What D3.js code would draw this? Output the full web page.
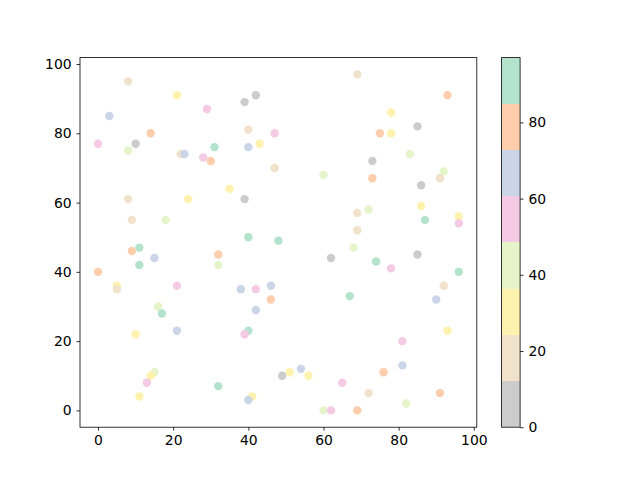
<!DOCTYPE html>
<html><head><meta charset="utf-8">
<script src="https://cdn.jsdelivr.net/npm/d3@7"></script>
<style>body{margin:0;background:#fff}svg{display:block}text{font-family:"DejaVu Sans",sans-serif}</style>
</head><body><svg id="c" width="640" height="480"></svg>
<script>
const xs = [8,3,0,21,29,14,10,8,22,23,28,30,31,39,42,40,47,43,40,47,60,69,93,78,85,75,78,83,73,92,91,73,8,24,9,18,11,9,15,11,32,32,0,5,5,21,35,39,40,48,62,38,42,46,46,86,69,72,86,87,96,96,69,68,85,74,78,96,92,90,67,16,17,21,10,15,14,13,11,32,42,40,39,49,51,54,56,65,41,40,60,62,93,81,81,76,72,91,82,69];
const ys = [95,85,77,91,87,80,77,75,74,74,73,72,76,89,91,81,80,77,76,70,68,97,91,86,82,80,80,74,72,69,67,67,61,61,55,55,47,46,44,42,45,42,40,36,35,36,64,61,50,49,44,35,35,36,32,65,57,58,59,55,56,54,52,47,45,43,41,40,36,32,33,30,28,23,22,11,10,8,4,7,29,23,22,10,11,12,10,8,4,3,0,0,23,20,13,11,5,5,2,0];
const cs = [18,66,54,30,54,78,0,42,18,66,54,78,91,6,6,18,54,30,66,18,42,18,78,30,6,78,30,42,6,42,18,78,18,30,18,42,91,78,66,91,78,42,78,30,18,54,30,6,91,91,6,66,54,66,78,6,18,42,30,91,30,54,18,42,6,91,54,91,18,66,97,42,91,66,30,42,30,54,30,91,66,91,54,6,30,66,30,54,30,66,42,54,30,54,66,78,18,78,42,78];
const colors = ['#cccccc','#f1e2cc','#fff2ae','#e6f5c9','#f4cae4','#cbd5e8','#fdcdac','#b3e2cd'];
const xTicks = [0,20,40,60,80,100];
const yTicks = [0,20,40,60,80,100];
const cTicks = [0,20,40,60,80];

const svg = d3.select('#c');
const L=80, R=476.8, T=57.6, B=427.2;
const [x0,x1] = d3.extent(xs), [y0,y1] = d3.extent(ys);
const mx=(x1-x0)*0.05, my=(y1-y0)*0.05;
const x = d3.scaleLinear().domain([x0-mx,x1+mx]).range([L,R]);
const y = d3.scaleLinear().domain([y0-my,y1+my]).range([B,T]);
const [cmin,cmax] = d3.extent(cs);
const col = d3.scaleQuantize().domain([cmin,cmax]).range(colors);

const g = svg.append('g');
g.selectAll('circle').data(xs.map((d,i)=>({x:d,y:ys[i],c:cs[i]}))).join('circle')
  .attr('cx',d=>x(d.x)).attr('cy',d=>y(d.y)).attr('r',4.2).attr('fill',d=>col(d.c));

function style(a){
  a.selectAll('path.domain').remove();
  a.selectAll('line').attr('stroke','#000').attr('stroke-width',0.8);
  a.selectAll('text').attr('font-size','13.9px').attr('fill','#000').attr('font-family','"DejaVu Sans",sans-serif');
}
const ax = svg.append('g').attr('transform',`translate(0,${B})`).call(d3.axisBottom(x).tickValues(xTicks).tickSize(3.5).tickPadding(4.9));
style(ax);
const ay = svg.append('g').attr('transform',`translate(${L},0)`).call(d3.axisLeft(y).tickValues(yTicks).tickSize(3.5).tickPadding(4.9));
style(ay);
svg.append('rect').attr('x',L).attr('y',T).attr('width',R-L).attr('height',B-T).attr('fill','none').attr('stroke','#000').attr('stroke-width',0.8);

// colorbar
const CL=501.6, CW=18.5;
const cy = d3.scaleLinear().domain([cmin,cmax]).range([B,T]);
const step=(cmax-cmin)/colors.length;
svg.append('g').selectAll('rect').data(colors).join('rect')
  .attr('x',CL).attr('width',CW)
  .attr('y',(d,i)=>cy(cmin+(i+1)*step)).attr('height',(d,i)=>cy(cmin+i*step)-cy(cmin+(i+1)*step))
  .attr('fill',d=>d).attr('shape-rendering','crispEdges');
svg.append('rect').attr('x',CL).attr('y',T).attr('width',CW).attr('height',B-T).attr('fill','none').attr('stroke','#000').attr('stroke-width',0.8);
const ac = svg.append('g').attr('transform',`translate(${CL+CW},0)`).call(d3.axisRight(cy).tickValues(cTicks).tickSize(3.5).tickPadding(4.9));
style(ac);
</script></body></html>
